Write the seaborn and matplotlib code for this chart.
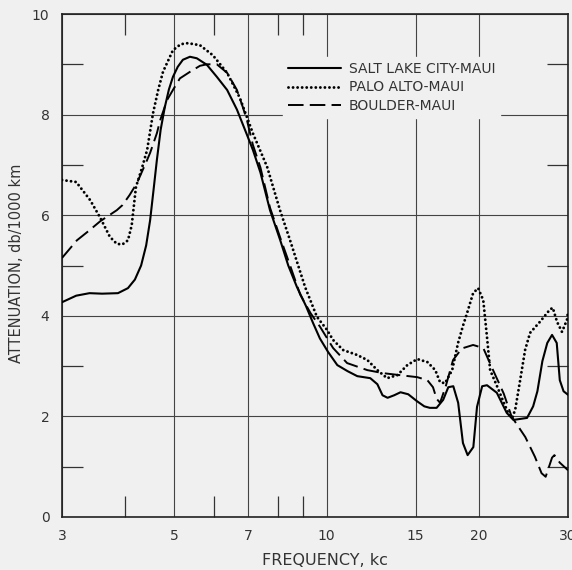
import numpy as np
import pandas as pd
import matplotlib
matplotlib.use("Agg")
import matplotlib.pyplot as plt
import seaborn as sns
from matplotlib.ticker import FixedLocator, NullFormatter, FixedFormatter

# ---- data (frequency in kc, attenuation in db/1000 km) ----
slc_freq = [3.0, 3.2, 3.4, 3.6, 3.87, 4.05, 4.18, 4.3, 4.4, 4.48, 4.55, 4.62, 4.7, 4.79,
            4.88, 4.97, 5.08, 5.2, 5.37, 5.54, 5.8, 6.07, 6.36, 6.65, 6.96, 7.15, 7.4, 7.73,
            8.1, 8.4, 8.74, 9.1, 9.4, 9.7, 10.07, 10.5, 11.0, 11.5, 12.2, 12.6, 12.9, 13.2,
            13.6, 14.0, 14.5, 15.1, 15.6, 16.0, 16.5, 17.0, 17.4, 17.8, 18.2, 18.6, 19.0,
            19.5, 19.83, 20.3, 20.75, 21.7, 22.7, 23.4, 24.9, 25.6, 26.1, 26.7, 27.3, 27.9,
            28.5, 28.9, 29.4, 30.0]
slc_att = [4.27, 4.40, 4.45, 4.44, 4.45, 4.55, 4.72, 5.0, 5.4, 5.9, 6.5, 7.1, 7.7, 8.15,
           8.5, 8.75, 8.95, 9.09, 9.15, 9.12, 8.99, 8.75, 8.49, 8.1, 7.6, 7.3, 6.85, 6.1,
           5.5, 5.0, 4.57, 4.2, 3.86, 3.55, 3.28, 3.02, 2.9, 2.8, 2.76, 2.64, 2.42, 2.37,
           2.42, 2.48, 2.44, 2.3, 2.2, 2.17, 2.17, 2.33, 2.58, 2.6, 2.27, 1.47, 1.23,
           1.39, 2.19, 2.6, 2.62, 2.47, 2.07, 1.93, 1.97, 2.2, 2.5, 3.1, 3.46, 3.62,
           3.46, 2.72, 2.5, 2.43]

pa_freq = [3.0, 3.2, 3.41, 3.57, 3.73, 3.85, 3.95, 4.05, 4.12, 4.2, 4.32, 4.42, 4.54, 4.65,
           4.75, 4.97, 5.15, 5.32, 5.62, 5.96, 6.36, 6.74, 7.15, 7.63, 8.09, 8.47, 9.07,
           9.57, 10.02, 10.3, 10.78, 11.5, 12.04, 12.6, 13.17, 13.8, 14.44, 15.11, 15.82,
           16.4, 16.76, 17.14, 17.71, 18.19, 18.6, 18.96, 19.48, 19.93, 20.4, 20.75, 21.05,
           21.72, 22.34, 22.85, 23.27, 23.59, 24.13, 24.68, 25.24, 26.4, 27.61, 27.99,
           28.54, 29.19, 29.86, 30.0]
pa_att = [6.70, 6.66, 6.3, 5.95, 5.57, 5.43, 5.42, 5.5, 5.8, 6.56, 6.95, 7.3, 8.03, 8.5,
          8.85, 9.28, 9.4, 9.42, 9.38, 9.18, 8.83, 8.33, 7.63, 6.96, 6.1, 5.5, 4.57,
          3.98, 3.72, 3.52, 3.32, 3.22, 3.12, 2.92, 2.76, 2.82, 3.02, 3.14, 3.08,
          2.92, 2.68, 2.66, 2.92, 3.46, 3.8, 4.06, 4.45, 4.55, 4.31, 3.58, 2.92,
          2.6, 2.3, 2.07, 1.97, 2.13, 2.72, 3.32, 3.66, 3.88, 4.12, 4.16,
          3.88, 3.68, 3.92, 4.08]

bo_freq = [3.0, 3.21, 3.38, 3.57, 3.85, 3.95, 4.08, 4.22, 4.42, 4.48, 4.62, 4.69, 4.84,
           4.97, 5.13, 5.37, 5.62, 5.8, 6.07, 6.36, 6.65, 6.83, 6.96, 7.15, 7.4, 7.73, 8.1,
           8.47, 8.87, 9.3, 9.71, 10.3, 10.98, 12.04, 12.93, 13.97, 15.11, 15.82, 16.23,
           16.5, 16.76, 17.2, 17.78, 18.5, 19.48, 20.4, 21.2, 22.4, 23.2, 24.7, 25.8, 26.6,
           27.1, 27.9, 28.2, 28.9, 30.0]
bo_att = [5.15, 5.5, 5.68, 5.88, 6.1, 6.2, 6.4, 6.64, 7.1, 7.24, 7.63, 7.89, 8.29,
          8.49, 8.72, 8.85, 8.97, 9.0, 9.0, 8.83, 8.49, 8.15, 7.89, 7.4, 6.95, 6.15, 5.55,
          5.0, 4.42, 4.05, 3.78, 3.36, 3.06, 2.92, 2.86, 2.82, 2.78, 2.72, 2.58,
          2.35, 2.27, 2.6, 3.12, 3.35, 3.42, 3.36, 2.98, 2.45, 2.0, 1.59, 1.2, 0.87,
          0.8, 1.18, 1.23, 1.08, 0.93]

series_names = ["SALT LAKE CITY-MAUI", "PALO ALTO-MAUI", "BOULDER-MAUI"]
x_ticks = [3, 5, 7, 10, 15, 20, 30]
x_tick_labels = ["3", "5", "7", "10", "15", "20", "30"]
x_minor = [4, 6, 8, 9]
y_ticks = [0, 2, 4, 6, 8, 10]
y_minor = [1, 3, 5, 7, 9]

# ---- style ----
sns.set_theme(style="white")
bg = "#f0f0f0"
plt.rcParams["font.family"] = ["DejaVu Sans"]

fig = plt.figure(figsize=(5.72, 5.70), dpi=100, facecolor=bg)
ax = fig.add_axes([62 / 572, 53 / 570, 506 / 572, 503 / 570])
ax.set_facecolor(bg)

styles = [
    dict(linestyle="-", lw=1.5),
    dict(linestyle=(0, (0.01, 1.55)), lw=2.1, dash_capstyle="round"),
    dict(linestyle=(0, (8.0, 3.2)), lw=1.4),
]
datasets = [(slc_freq, slc_att), (pa_freq, pa_att), (bo_freq, bo_att)]
handles = []
for (fx, fy), name, st in zip(datasets, series_names, styles):
    df = pd.DataFrame({"freq": fx, "att": fy})
    sns.lineplot(data=df, x="freq", y="att", ax=ax, color="black", sort=False,
                 estimator=None, zorder=3, **st)
    handles.append(ax.get_lines()[-1])

ax.set_xscale("log")
ax.set_xlim(3, 30)
ax.set_ylim(0, 10)

ax.xaxis.set_major_locator(FixedLocator(x_ticks))
ax.xaxis.set_major_formatter(FixedFormatter(x_tick_labels))
ax.xaxis.set_minor_locator(FixedLocator(x_minor))
ax.xaxis.set_minor_formatter(NullFormatter())
ax.yaxis.set_major_locator(FixedLocator(y_ticks))
ax.yaxis.set_minor_locator(FixedLocator(y_minor))
ax.yaxis.set_minor_formatter(NullFormatter())

ax.grid(True, which="major", color="#444444", lw=0.8, zorder=1)
ax.set_axisbelow(True)
ax.tick_params(which="major", length=0, pad=9, labelsize=10, colors="#333333")
ax.tick_params(which="minor", direction="in", length=15, width=0.9, color="#333333",
               top=True, right=True, bottom=True, left=True)
for s in ax.spines.values():
    s.set_color("#222222")
    s.set_linewidth(1.2)

ax.set_xlabel("FREQUENCY, kc", fontsize=11.5, color="#333333")
ax.xaxis.set_label_coords(0.52, -0.072)
ax.set_ylabel("ATTENUATION, db/1000 km", fontsize=10.5, color="#333333")
ax.yaxis.set_label_coords(-0.076, 0.505)

leg = ax.legend(handles=handles, labels=series_names, loc="upper left",
                bbox_to_anchor=(0.437, 0.915), borderaxespad=0, borderpad=0.35,
                frameon=True, fancybox=False, edgecolor=bg, facecolor=bg, framealpha=1,
                handlelength=3.8, handletextpad=0.6, labelspacing=0.35, fontsize=10)
for t in leg.get_texts():
    t.set_color("#333333")
leg.set_zorder(5)

fig.savefig("out.png", dpi=100, facecolor=bg)
